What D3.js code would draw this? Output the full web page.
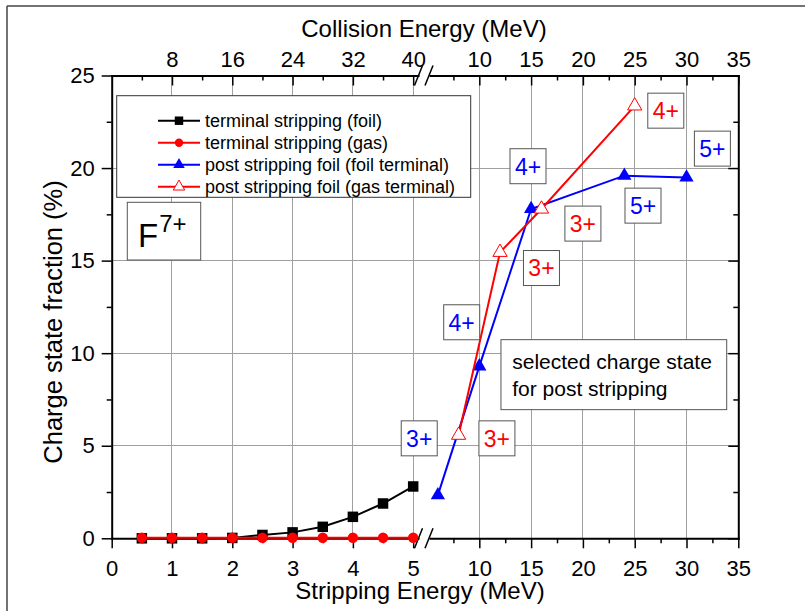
<!DOCTYPE html>
<meta charset="utf-8">
<style>
body { margin: 0; background: #fff; font-family: 'Liberation Sans', Arial, sans-serif; }
text { fill: #000; }
.axis path { fill: none; stroke: #000; stroke-width: 2px; stroke-linecap: square; }
.axis line { stroke: #000; stroke-width: 1.5px; }
.axis text { font-size: 22px; font-family: 'Liberation Sans', Arial, sans-serif; }
.grid line { stroke: #a0a0a0; stroke-width: 1px; shape-rendering: crispEdges; }
.axis-title { font-size: 24px; text-anchor: middle; }
.data-line { fill: none; stroke-width: 2px; }
.tag rect { fill: #fff; stroke: #555; stroke-width: 1px; }
.tag text { font-size: 23px; text-anchor: middle; }
.legend text { font-size: 18px; }
</style>
<body>
<svg width="805" height="611"></svg>
<script src="https://d3js.org/d3.v7.min.js"></script>
<script>
// terminal stripping, stripping energy 0.5 - 5 MeV (left part of the broken axis)
var termEnergy = [0.5, 1, 1.5, 2, 2.5, 3, 3.5, 4, 4.5, 5];
var termFoil   = [0, 0, 0, 0.02, 0.18, 0.32, 0.62, 1.16, 1.88, 2.8];
var termGas    = [0.03, 0.03, 0.03, 0.03, 0.03, 0.03, 0.03, 0.03, 0.03, 0.03];

// post stripping foil (right part of the broken axis)
var postFoilEnergy = [6, 10, 15, 24, 30];
var postFoilFrac   = [2.33, 9.29, 17.79, 19.59, 19.49];
var postGasEnergy  = [8, 12, 16, 25];
var postGasFrac    = [5.57, 15.45, 17.79, 23.36];

// tick values
var bottomTicksL = [0, 1, 2, 3, 4, 5];
var bottomMinorL = [0.5, 1.5, 2.5, 3.5, 4.5];
var ticksR       = [10, 15, 20, 25, 30, 35];
var minorR       = [7.5, 12.5, 17.5, 22.5, 27.5, 32.5];
var topTicksL    = [8, 16, 24, 32, 40];
var topMinorL    = [4, 12, 20, 28, 36];
var yTicks       = [0, 5, 10, 15, 20, 25];
var yMinor       = [2.5, 7.5, 12.5, 17.5, 22.5];

// charge state tags: energy (right axis), fraction, label, colour
var tagEnergy = [28, 32.5, 14.7, 25.8, 20, 16, 8.3, 4.2, 11.7];
var tagFrac   = [23.1, 21.05, 20.1, 17.97, 17, 14.6, 11.67, 5.4, 5.4];
var tagLabel  = ["4+", "5+", "4+", "5+", "3+", "3+", "4+", "3+", "3+"];
var tagColor  = ["red", "blue", "blue", "blue", "red", "red", "blue", "blue", "red"];

var legendLabels = ["terminal stripping (foil)", "terminal stripping (gas)",
                    "post stripping foil (foil terminal)", "post stripping foil (gas terminal)"];

var svg = d3.select("svg");
var pLeft = 111.7, pRight = 738.3, pTop = 75.5, pBottom = 538.3,
    breakL = 418, breakR = 430;

var xL = d3.scaleLinear().domain([0, 5.08]).range([pLeft, breakL]);
var xTopL = d3.scaleLinear().domain([0, 5.08 * 8]).range([pLeft, breakL]);
var xR = d3.scaleLinear().domain([5.24, 35]).range([breakR, pRight]);
var y = d3.scaleLinear().domain([0, 25]).range([pBottom, pTop]);
var fmt = d3.format("d");

// frame round the picture
svg.append("line").attr("x1", 7).attr("y1", 6).attr("x2", 805).attr("y2", 6)
    .attr("stroke", "#444").attr("stroke-width", 1.5);
svg.append("line").attr("x1", 7).attr("y1", 6).attr("x2", 7).attr("y2", 611)
    .attr("stroke", "#444").attr("stroke-width", 1.5);

// grid
var grid = svg.append("g").attr("class", "grid");
grid.selectAll(".gv1").data([1, 2, 3, 4, 5]).enter().append("line")
    .attr("x1", function(d) { return xL(d); }).attr("x2", function(d) { return xL(d); })
    .attr("y1", pTop).attr("y2", pBottom);
grid.selectAll(".gv2").data([10, 15, 20, 25, 30]).enter().append("line")
    .attr("x1", function(d) { return xR(d); }).attr("x2", function(d) { return xR(d); })
    .attr("y1", pTop).attr("y2", pBottom);
grid.selectAll(".gh").data([5, 10, 15, 20]).enter().append("line")
    .attr("x1", pLeft).attr("x2", pRight)
    .attr("y1", function(d) { return y(d); }).attr("y2", function(d) { return y(d); });

// axes
function addAxis(axis, tx, ty) {
  return svg.append("g").attr("class", "axis")
      .attr("transform", "translate(" + tx + "," + ty + ")").call(axis);
}
function addMinor(axis, tx, ty) {
  var g = addAxis(axis.tickFormat(""), tx, ty);
  g.select(".domain").remove();
  return g;
}
addAxis(d3.axisBottom(xL).tickValues(bottomTicksL).tickFormat(fmt).tickSizeInner(10).tickSizeOuter(0).tickPadding(12), 0, pBottom);
addMinor(d3.axisBottom(xL).tickValues(bottomMinorL).tickSize(5), 0, pBottom);
addAxis(d3.axisBottom(xR).tickValues(ticksR).tickFormat(fmt).tickSizeInner(10).tickSizeOuter(0).tickPadding(12), 0, pBottom);
addMinor(d3.axisBottom(xR).tickValues(minorR).tickSize(5), 0, pBottom);

addAxis(d3.axisTop(xTopL).tickValues(topTicksL).tickFormat(fmt).tickSizeInner(-10).tickSizeOuter(0).tickPadding(9), 0, pTop);
addMinor(d3.axisTop(xTopL).tickValues(topMinorL).tickSize(-5), 0, pTop);
addAxis(d3.axisTop(xR).tickValues(ticksR).tickFormat(fmt).tickSizeInner(-10).tickSizeOuter(0).tickPadding(9), 0, pTop);
addMinor(d3.axisTop(xR).tickValues(minorR).tickSize(-5), 0, pTop);

addAxis(d3.axisLeft(y).tickValues(yTicks).tickFormat(fmt).tickSizeInner(10).tickSizeOuter(0).tickPadding(7), pLeft, 0);
addMinor(d3.axisLeft(y).tickValues(yMinor).tickSize(5), pLeft, 0);
addAxis(d3.axisRight(y).tickValues(yTicks).tickSizeInner(-10).tickSizeOuter(0).tickFormat(""), pRight, 0);
addMinor(d3.axisRight(y).tickValues(yMinor).tickSize(-5), pRight, 0);

// axis break marks
[pBottom, pTop].forEach(function(yy) {
  [418.5, 429].forEach(function(cx) {
    svg.append("line").attr("x1", cx - 4).attr("y1", yy + 10).attr("x2", cx + 4).attr("y2", yy - 10)
        .attr("stroke", "#000").attr("stroke-width", 1.5);
  });
});

// titles
svg.append("text").attr("class", "axis-title").attr("x", 424).attr("y", 37).text("Collision Energy (MeV)");
svg.append("text").attr("class", "axis-title").attr("x", 420).attr("y", 599).text("Stripping Energy (MeV)");
svg.append("text").attr("class", "axis-title").attr("transform", "translate(62,322) rotate(-90)")
    .style("font-size", "25.5px").text("Charge state fraction (%)");

// series
var series = [
  {xs: termEnergy, ys: termFoil, sx: xL, color: "#000", sym: d3.symbolSquare, size: 110, fill: "#000"},
  {xs: termEnergy, ys: termGas, sx: xL, color: "#f00", sym: d3.symbolCircle, size: 85, fill: "#f00"},
  {xs: postFoilEnergy, ys: postFoilFrac, sx: xR, color: "#00f", sym: d3.symbolTriangle, size: 88, fill: "#00f"},
  {xs: postGasEnergy, ys: postGasFrac, sx: xR, color: "#f00", sym: d3.symbolTriangle, size: 88, fill: "#fff"}
];

series.forEach(function(s) {
  var pts = s.xs.map(function(v, i) { return [v, s.ys[i]]; });
  var line = d3.line().x(function(d) { return s.sx(d[0]); }).y(function(d) { return y(d[1]); });
  svg.append("path").datum(pts).attr("class", "data-line").attr("stroke", s.color).attr("d", line);
  svg.selectAll(null).data(pts).enter().append("path")
      .attr("d", d3.symbol().type(s.sym).size(s.size))
      .attr("transform", function(d) { return "translate(" + s.sx(d[0]) + "," + y(d[1]) + ")"; })
      .attr("fill", s.fill)
      .attr("stroke", s.fill === "#fff" ? s.color : "none")
      .attr("stroke-width", 1);
});

// legend
var legend = svg.append("g").attr("class", "legend");
legend.append("rect").attr("x", 116.7).attr("y", 95.7).attr("width", 354).attr("height", 101.6)
    .attr("fill", "#fff").attr("stroke", "#333").attr("stroke-width", 1);
series.forEach(function(s, i) {
  var ly = 120.7 + i * 22;
  legend.append("line").attr("x1", 158).attr("x2", 200).attr("y1", ly).attr("y2", ly)
      .attr("stroke", s.color).attr("stroke-width", 2);
  legend.append("path").attr("d", d3.symbol().type(s.sym).size(s.size * 0.65))
      .attr("transform", "translate(179," + ly + ")")
      .attr("fill", s.fill).attr("stroke", s.fill === "#fff" ? s.color : "none");
  legend.append("text").attr("x", 205).attr("y", ly + 6.5).text(legendLabels[i]);
});

// F7+ label
svg.append("rect").attr("x", 127.3).attr("y", 202.3).attr("width", 73.4).attr("height", 57.7)
    .attr("fill", "#fff").attr("stroke", "#555");
var f = svg.append("text").attr("x", 138).attr("y", 247.3).style("font-size", "33px");
f.append("tspan").text("F");
f.append("tspan").attr("dy", -15.6).attr("dx", 1).style("font-size", "24px").text("7+");

// charge state tags
tagLabel.forEach(function(lab, i) {
  var cx = xR(tagEnergy[i]), cy = y(tagFrac[i]);
  var g = svg.append("g").attr("class", "tag");
  g.append("rect").attr("x", cx - 18).attr("y", cy - 17.5).attr("width", 36).attr("height", 35);
  g.append("text").attr("x", cx).attr("y", cy + 8.3).style("fill", tagColor[i]).text(lab);
});

// note box
var nx0 = xR(12.09), nx1 = xR(33.88), ny0 = y(10.73), ny1 = y(6.95);
svg.append("rect").attr("x", nx0).attr("y", ny0).attr("width", nx1 - nx0).attr("height", ny1 - ny0)
    .attr("fill", "#fff").attr("stroke", "#555");
var note = svg.append("text").attr("x", nx0 + 11.3).attr("y", ny0 + 29).style("font-size", "21px");
note.append("tspan").text("selected charge state");
note.append("tspan").attr("x", nx0 + 11.3).attr("dy", 27).text("for post stripping");
</script>
